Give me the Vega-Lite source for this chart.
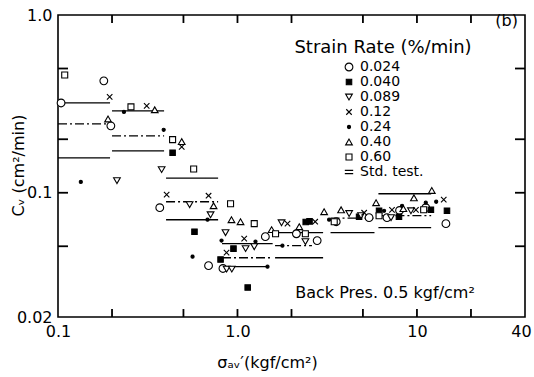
{
  "$schema": "https://vega.github.io/schema/vega-lite/v6.json",
  "width": 467,
  "height": 302,
  "autosize": {"type": "none"},
  "padding": {"left": 58, "top": 15, "right": 9, "bottom": 60},
  "background": "white",
  "config": {
    "view": {"stroke": "black", "strokeWidth": 1.6},
    "font": "DejaVu Sans",
    "axis": {
      "grid": false,
      "domain": false,
      "ticks": false,
      "labelColor": "black",
      "labelFont": "DejaVu Sans",
      "labelFontSize": 16,
      "titleFont": "DejaVu Sans",
      "titleFontSize": 16,
      "titleFontWeight": "normal",
      "titleColor": "black"
    }
  },
  "datasets": {
    "pts": [
      {"x": 0.104, "y": 0.320, "rate": "0.024"},
      {"x": 0.180, "y": 0.426, "rate": "0.024"},
      {"x": 0.197, "y": 0.238, "rate": "0.024"},
      {"x": 0.369, "y": 0.0824, "rate": "0.024"},
      {"x": 0.690, "y": 0.0389, "rate": "0.024"},
      {"x": 0.830, "y": 0.0375, "rate": "0.024"},
      {"x": 1.43, "y": 0.0566, "rate": "0.024"},
      {"x": 2.13, "y": 0.0588, "rate": "0.024"},
      {"x": 2.78, "y": 0.0538, "rate": "0.024"},
      {"x": 3.55, "y": 0.0687, "rate": "0.024"},
      {"x": 5.41, "y": 0.0724, "rate": "0.024"},
      {"x": 6.81, "y": 0.0724, "rate": "0.024"},
      {"x": 8.0, "y": 0.0795, "rate": "0.024"},
      {"x": 11.2, "y": 0.0824, "rate": "0.024"},
      {"x": 14.5, "y": 0.0670, "rate": "0.024"},

      {"x": 0.435, "y": 0.168, "rate": "0.040"},
      {"x": 0.576, "y": 0.0604, "rate": "0.040"},
      {"x": 0.805, "y": 0.0421, "rate": "0.040"},
      {"x": 0.95, "y": 0.0485, "rate": "0.040"},
      {"x": 1.14, "y": 0.0293, "rate": "0.040"},
      {"x": 2.40, "y": 0.0685, "rate": "0.040"},
      {"x": 2.52, "y": 0.0690, "rate": "0.040"},
      {"x": 4.76, "y": 0.0733, "rate": "0.040"},
      {"x": 6.15, "y": 0.0792, "rate": "0.040"},
      {"x": 7.94, "y": 0.0733, "rate": "0.040"},
      {"x": 11.96, "y": 0.0802, "rate": "0.040"},
      {"x": 14.7, "y": 0.0792, "rate": "0.040"},

      {"x": 0.213, "y": 0.117, "rate": "0.089"},
      {"x": 0.378, "y": 0.135, "rate": "0.089"},
      {"x": 0.541, "y": 0.0857, "rate": "0.089"},
      {"x": 0.708, "y": 0.0752, "rate": "0.089"},
      {"x": 0.858, "y": 0.0596, "rate": "0.089"},
      {"x": 0.87, "y": 0.0372, "rate": "0.089"},
      {"x": 0.93, "y": 0.0372, "rate": "0.089"},
      {"x": 1.11, "y": 0.0485, "rate": "0.089"},
      {"x": 1.24, "y": 0.0497, "rate": "0.089"},
      {"x": 1.76, "y": 0.0678, "rate": "0.089"},
      {"x": 2.39, "y": 0.0531, "rate": "0.089"},
      {"x": 4.19, "y": 0.0764, "rate": "0.089"},
      {"x": 4.88, "y": 0.0743, "rate": "0.089"},
      {"x": 7.17, "y": 0.0724, "rate": "0.089"},
      {"x": 9.26, "y": 0.0792, "rate": "0.089"},

      {"x": 0.194, "y": 0.346, "rate": "0.12"},
      {"x": 0.312, "y": 0.308, "rate": "0.12"},
      {"x": 0.489, "y": 0.181, "rate": "0.12"},
      {"x": 0.403, "y": 0.0975, "rate": "0.12"},
      {"x": 0.690, "y": 0.0962, "rate": "0.12"},
      {"x": 1.09, "y": 0.0552, "rate": "0.12"},
      {"x": 0.869, "y": 0.0460, "rate": "0.12"},
      {"x": 1.90, "y": 0.0670, "rate": "0.12"},
      {"x": 2.71, "y": 0.0687, "rate": "0.12"},
      {"x": 5.08, "y": 0.0772, "rate": "0.12"},
      {"x": 7.26, "y": 0.0802, "rate": "0.12"},
      {"x": 9.87, "y": 0.0802, "rate": "0.12"},
      {"x": 14.1, "y": 0.0914, "rate": "0.12"},

      {"x": 0.134, "y": 0.115, "rate": "0.24"},
      {"x": 0.233, "y": 0.285, "rate": "0.24"},
      {"x": 0.388, "y": 0.226, "rate": "0.24"},
      {"x": 0.681, "y": 0.0705, "rate": "0.24"},
      {"x": 0.562, "y": 0.0437, "rate": "0.24"},
      {"x": 0.815, "y": 0.0538, "rate": "0.24"},
      {"x": 1.26, "y": 0.0531, "rate": "0.24"},
      {"x": 1.47, "y": 0.0384, "rate": "0.24"},
      {"x": 1.78, "y": 0.0504, "rate": "0.24"},
      {"x": 3.24, "y": 0.0705, "rate": "0.24"},
      {"x": 6.56, "y": 0.0792, "rate": "0.24"},
      {"x": 8.26, "y": 0.0845, "rate": "0.24"},
      {"x": 11.2, "y": 0.0879, "rate": "0.24"},
      {"x": 12.8, "y": 0.0890, "rate": "0.24"},

      {"x": 0.190, "y": 0.260, "rate": "0.40"},
      {"x": 0.346, "y": 0.293, "rate": "0.40"},
      {"x": 0.489, "y": 0.194, "rate": "0.40"},
      {"x": 0.736, "y": 0.0845, "rate": "0.40"},
      {"x": 0.926, "y": 0.0705, "rate": "0.40"},
      {"x": 1.04, "y": 0.0687, "rate": "0.40"},
      {"x": 1.55, "y": 0.0620, "rate": "0.40"},
      {"x": 2.21, "y": 0.0644, "rate": "0.40"},
      {"x": 3.04, "y": 0.0782, "rate": "0.40"},
      {"x": 3.78, "y": 0.0802, "rate": "0.40"},
      {"x": 5.92, "y": 0.0879, "rate": "0.40"},
      {"x": 8.4, "y": 0.0815, "rate": "0.40"},
      {"x": 9.62, "y": 0.0937, "rate": "0.40"},
      {"x": 12.1, "y": 0.103, "rate": "0.40"},

      {"x": 0.109, "y": 0.460, "rate": "0.60"},
      {"x": 0.255, "y": 0.304, "rate": "0.60"},
      {"x": 0.435, "y": 0.199, "rate": "0.60"},
      {"x": 0.570, "y": 0.136, "rate": "0.60"},
      {"x": 0.915, "y": 0.0867, "rate": "0.60"},
      {"x": 1.24, "y": 0.0670, "rate": "0.60"},
      {"x": 1.63, "y": 0.0588, "rate": "0.60"},
      {"x": 2.39, "y": 0.0588, "rate": "0.60"},
      {"x": 3.46, "y": 0.0687, "rate": "0.60"},
      {"x": 6.15, "y": 0.0743, "rate": "0.60"},
      {"x": 10.9, "y": 0.0802, "rate": "0.60"}
    ],
    "std": [
      {"x": 0.1, "x2": 0.195, "y": 0.320, "kind": "solid"},
      {"x": 0.1, "x2": 0.195, "y": 0.244, "kind": "dashdot"},
      {"x": 0.1, "x2": 0.195, "y": 0.157, "kind": "solid"},
      {"x": 0.2, "x2": 0.39, "y": 0.289, "kind": "solid"},
      {"x": 0.2, "x2": 0.39, "y": 0.209, "kind": "dashdot"},
      {"x": 0.2, "x2": 0.39, "y": 0.172, "kind": "solid"},
      {"x": 0.4, "x2": 0.78, "y": 0.121, "kind": "solid"},
      {"x": 0.4, "x2": 0.78, "y": 0.089, "kind": "dashdot"},
      {"x": 0.4, "x2": 0.78, "y": 0.0705, "kind": "solid"},
      {"x": 0.82, "x2": 1.57, "y": 0.0517, "kind": "solid"},
      {"x": 0.82, "x2": 1.57, "y": 0.0431, "kind": "dashdot"},
      {"x": 0.82, "x2": 1.47, "y": 0.0384, "kind": "solid"},
      {"x": 1.62, "x2": 3.0, "y": 0.0596, "kind": "solid"},
      {"x": 1.62, "x2": 2.6, "y": 0.0504, "kind": "dashdot"},
      {"x": 1.62, "x2": 3.0, "y": 0.0431, "kind": "solid"},
      {"x": 3.3, "x2": 5.8, "y": 0.072, "kind": "dashdot"},
      {"x": 3.3, "x2": 5.8, "y": 0.0596, "kind": "solid"},
      {"x": 6.1, "x2": 12.0, "y": 0.0987, "kind": "solid"},
      {"x": 6.1, "x2": 12.0, "y": 0.0743, "kind": "dashdot"},
      {"x": 6.1, "x2": 12.0, "y": 0.0636, "kind": "solid"}
    ],
    "xticks": [{"v": 0.2}, {"v": 0.5}, {"v": 1}, {"v": 2}, {"v": 5}, {"v": 10}, {"v": 20}],
    "yticks": [{"v": 0.05}, {"v": 0.1}, {"v": 0.2}, {"v": 0.5}]
  },
  "layer": [
    {
      "data": {"name": "std"},
      "mark": {"type": "rule", "color": "black", "strokeWidth": 1.3},
      "encoding": {
        "x": {
          "field": "x", "type": "quantitative",
          "scale": {"type": "log", "domain": [0.1, 40], "nice": false},
          "axis": {
            "orient": "bottom",
            "values": [0.1, 1, 10, 40],
            "labelExpr": "datum.value == 0.1 ? '0.1' : datum.value == 1 ? '1.0' : datum.value == 10 ? '10' : '40'",
            "labelPadding": 6,
            "labelOffset": {"condition": {"test": "datum.value == 40", "value": -4}, "value": 0},
            "labelFlush": false,
            "labelOverlap": false,
            "title": "σₐᵥ′(kgf/cm²)",
            "titleX": 209,
            "titleY": 45,
            "titleBaseline": "middle",
            "titleAlign": "center"
          }
        },
        "x2": {"field": "x2"},
        "y": {
          "field": "y", "type": "quantitative",
          "scale": {"type": "log", "domain": [0.02, 1], "nice": false},
          "axis": {
            "orient": "left",
            "values": [0.02, 0.1, 1],
            "labelExpr": "datum.value == 1 ? '1.0' : datum.value == 0.1 ? '0.1' : '0.02'",
            "labelPadding": 6,
            "labelFlush": false,
            "labelOverlap": false,
            "title": "Cᵥ (cm²/min)",
            "titleX": -40,
            "titleY": 150,
            "titleAngle": 270,
            "titleAlign": "center",
            "titleBaseline": "middle"
          }
        },
        "strokeDash": {
          "field": "kind", "type": "nominal",
          "scale": {"domain": ["solid", "dashdot"], "range": [[1, 0], [9, 3, 2, 3]]},
          "legend": null
        }
      }
    },
    {
      "data": {"name": "xticks"},
      "mark": {"type": "point", "stroke": "black", "strokeWidth": 1.8, "opacity": 1, "filled": false},
      "encoding": {
        "x": {"field": "v", "type": "quantitative", "axis": null},
        "y": {"datum": 0.02105, "type": "quantitative", "axis": null},
        "shape": {"value": "M0,-1L0,1"},
        "size": {"value": 64}
      }
    },
    {
      "data": {"name": "xticks"},
      "mark": {"type": "point", "stroke": "black", "strokeWidth": 1.8, "opacity": 1, "filled": false},
      "encoding": {
        "x": {"field": "v", "type": "quantitative", "axis": null},
        "y": {"datum": 0.9496, "type": "quantitative", "axis": null},
        "shape": {"value": "M0,-1L0,1"},
        "size": {"value": 64}
      }
    },
    {
      "data": {"name": "yticks"},
      "mark": {"type": "point", "stroke": "black", "strokeWidth": 1.8, "opacity": 1, "filled": false},
      "encoding": {
        "y": {"field": "v", "type": "quantitative", "axis": null},
        "x": {"datum": 0.1066, "type": "quantitative", "axis": null},
        "shape": {"value": "M-1,0L1,0"},
        "size": {"value": 100}
      }
    },
    {
      "data": {"name": "yticks"},
      "mark": {"type": "point", "stroke": "black", "strokeWidth": 1.8, "opacity": 1, "filled": false},
      "encoding": {
        "y": {"field": "v", "type": "quantitative", "axis": null},
        "x": {"datum": 37.5, "type": "quantitative", "axis": null},
        "shape": {"value": "M-1,0L1,0"},
        "size": {"value": 100}
      }
    },
    {
      "data": {"name": "pts"},
      "mark": {"type": "point", "stroke": "black", "strokeWidth": 1.1, "opacity": 1},
      "encoding": {
        "x": {"field": "x", "type": "quantitative", "axis": null},
        "y": {"field": "y", "type": "quantitative", "axis": null},
        "shape": {
          "field": "rate", "type": "nominal",
          "scale": {
            "domain": ["0.024", "0.040", "0.089", "0.12", "0.24", "0.40", "0.60", "Std. test."],
            "range": ["circle", "square", "triangle-down", "M-1,-1L1,1M-1,1L1,-1", "circle", "triangle-up", "square", "M-1,-0.4L1,-0.4M-1,0.4L1,0.4"]
          },
          "legend": {
            "title": "Strain Rate (%/min)",
            "orient": "none",
            "legendX": 236,
            "legendY": 24,
            "titleFont": "DejaVu Sans",
            "titleFontSize": 18,
            "titleFontWeight": "normal",
            "titleColor": "black",
            "titleLimit": 400,
            "titleAnchor": "middle",
            "titleAlign": "center",
            "titlePadding": 3,
            "labelFont": "DejaVu Sans",
            "labelFontSize": 14,
            "labelColor": "black",
            "rowPadding": 1,
            "symbolStrokeColor": "black",
            "symbolStrokeWidth": 1.1
          }
        },
        "fill": {
          "field": "rate", "type": "nominal",
          "scale": {
            "domain": ["0.024", "0.040", "0.089", "0.12", "0.24", "0.40", "0.60", "Std. test."],
            "range": ["white", "black", "white", "transparent", "black", "white", "white", "transparent"]
          },
          "legend": {"title": "Strain Rate (%/min)"}
        },
        "size": {
          "field": "rate", "type": "nominal",
          "scale": {
            "type": "ordinal",
            "domain": ["0.024", "0.040", "0.089", "0.12", "0.24", "0.40", "0.60", "Std. test."],
            "range": [60, 30, 45, 30, 10, 45, 36, 70]
          },
          "legend": {"title": "Strain Rate (%/min)"}
        }
      }
    },
    {
      "data": {"values": [{"label": "Back Pres. 0.5 kgf/cm²"}]},
      "mark": {"type": "text", "font": "DejaVu Sans", "fontSize": 16, "color": "black", "align": "center", "baseline": "middle"},
      "encoding": {
        "x": {"datum": 6.64, "type": "quantitative", "axis": null},
        "y": {"datum": 0.0274, "type": "quantitative", "axis": null},
        "text": {"field": "label"}
      }
    },
    {
      "data": {"values": [{"label": "(b)"}]},
      "mark": {"type": "text", "font": "DejaVu Sans", "fontSize": 16, "color": "black", "align": "center", "baseline": "middle"},
      "encoding": {
        "x": {"datum": 31.6, "type": "quantitative", "axis": null},
        "y": {"datum": 0.93, "type": "quantitative", "axis": null},
        "text": {"field": "label"}
      }
    }
  ],
  "resolve": {"axis": {"x": "independent", "y": "independent"}}
}
